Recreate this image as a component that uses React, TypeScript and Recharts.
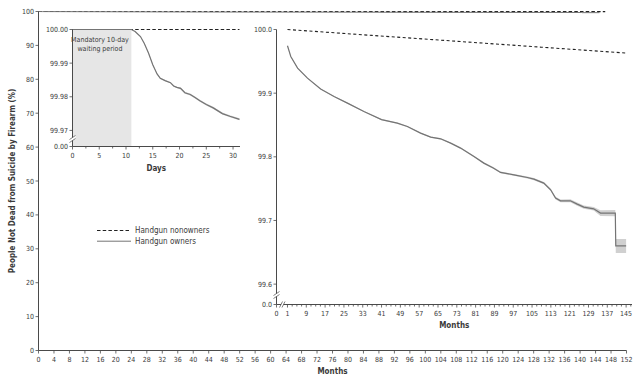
import React from 'react';
import { ComposedChart, XAxis, YAxis, Line, Area, ReferenceArea, Legend } from 'recharts';

const FONT = "'Liberation Sans Narrow', 'DejaVu Sans Condensed', 'Liberation Sans', Arial, sans-serif";
const TEXT = '#3a3a3a';
const AXIS = '#4a4a4a';
const OWNER = '#747474';
const BAND = '#d0d0d0';
const DASH = '#222222';
const SHADE = '#e6e6e6';

// ---------- main chart (0-152 months, 0-100 %) ----------
const mainXTicks = [0, 4, 8, 12, 16, 20, 24, 28, 32, 36, 40, 44, 48, 52, 56, 60, 64, 68, 72, 76, 80, 84, 88, 92, 96, 100, 104, 108, 112, 116, 120, 124, 128, 132, 136, 140, 144, 148, 152];
const mainYTicks = [0, 10, 20, 30, 40, 50, 60, 70, 80, 90, 100];
const mainNonownerMonths = [0, 146.5];
const mainNonowners = [100, 99.963];
const mainOwnerMonths = [0, 1, 41, 81, 115, 140.4, 140.6, 145];
const mainOwners = [100, 99.974, 99.858, 99.8, 99.735, 99.712, 99.66, 99.66];

// ---------- days inset ----------
const dayTicks = [0, 2.5, 5, 7.5, 10, 12.5, 15, 17.5, 20, 22.5, 25, 27.5, 30];
const dayLabelTicks = [0, 5, 10, 15, 20, 25, 30];
const DAY_BREAK = 99.96522;
const dayYTicks = [DAY_BREAK, 99.97, 99.98, 99.99, 100.0];
const waitingDays = [0, 11];
const nonownerDays = [0, 31.2];
const nonownersByDay = [100.0, 100.0];
const days = [0, 11, 11.7, 12.7, 13.4, 14.2, 15, 15.8, 16.4, 17.3, 18.3, 18.9, 19.5, 20.2, 21, 22, 22.9, 23.8, 25, 26.3, 28, 29.4, 31.2];
const ownersByDay = [100.0, 100.0, 99.9994, 99.9979, 99.9959, 99.993, 99.9895, 99.9868, 99.9855, 99.9848, 99.9842, 99.9832, 99.9828, 99.9825, 99.9812, 99.9807, 99.9798, 99.9788, 99.9777, 99.9767, 99.975, 99.9742, 99.9733];
const ownersLowByDay = [100.0, 100.0, 99.9993, 99.9978, 99.9958, 99.9928, 99.9893, 99.9866, 99.9853, 99.9846, 99.984, 99.983, 99.9826, 99.9822, 99.9809, 99.9804, 99.9795, 99.9785, 99.9774, 99.9764, 99.9747, 99.9739, 99.973];
const ownersHighByDay = [100.0, 100.0, 99.9995, 99.998, 99.996, 99.9932, 99.9897, 99.987, 99.9857, 99.985, 99.9844, 99.9834, 99.983, 99.9828, 99.9815, 99.981, 99.9801, 99.9791, 99.978, 99.977, 99.9753, 99.9745, 99.9736];

// ---------- months inset ----------
const MONTH_ORIGIN = -3.67;
const monthLabelTicks = [1, 9, 17, 25, 33, 41, 49, 57, 65, 73, 81, 89, 97, 105, 113, 121, 129, 137, 145];
const MONTH_BREAK = 99.568;
const monthYTicks = [MONTH_BREAK, 99.6, 99.7, 99.8, 99.9, 100.0];
const nonownerMonths = [1, 37, 73, 109, 145];
const nonownersByMonth = [100.0, 99.9907, 99.9815, 99.9722, 99.963];
const monthPoints = [1, 2.4, 5.3, 9.5, 15.1, 20.8, 26.5, 33.5, 41, 47.7, 52, 57.6, 61.9, 66.1, 70.4, 74.6, 80.3, 84.5, 88.5, 91.6, 97.3, 103, 105.8, 110, 112.9, 115, 117.1, 121.3, 124.2, 127, 131.2, 134.1, 140.4, 140.6, 145];
const ownersByMonth = [99.9744, 99.9576, 99.9393, 99.9236, 99.9064, 99.8947, 99.8843, 99.8712, 99.8585, 99.8529, 99.8476, 99.8372, 99.8309, 99.8283, 99.8215, 99.8137, 99.8005, 99.7901, 99.7825, 99.7755, 99.7717, 99.7675, 99.765, 99.7587, 99.7482, 99.7351, 99.7309, 99.7309, 99.7257, 99.721, 99.7183, 99.7116, 99.7116, 99.6602, 99.6602];
const ownersLowByMonth = [99.9736, 99.9568, 99.9385, 99.9228, 99.9056, 99.8939, 99.8834, 99.8703, 99.8576, 99.8519, 99.8466, 99.8362, 99.8298, 99.8272, 99.8204, 99.8125, 99.7993, 99.7888, 99.7811, 99.7741, 99.7702, 99.7659, 99.7633, 99.7569, 99.7462, 99.733, 99.7287, 99.7285, 99.7232, 99.7184, 99.7155, 99.707, 99.7068, 99.649, 99.649];
const ownersHighByMonth = [99.9752, 99.9584, 99.9401, 99.9244, 99.9072, 99.8955, 99.8852, 99.8721, 99.8594, 99.8539, 99.8486, 99.8382, 99.832, 99.8294, 99.8226, 99.8149, 99.8017, 99.7914, 99.7839, 99.7769, 99.7732, 99.7691, 99.7667, 99.7605, 99.7502, 99.7372, 99.7331, 99.7333, 99.7282, 99.7236, 99.7211, 99.7162, 99.7164, 99.671, 99.671];

const monthAxisTicks = [MONTH_ORIGIN, ...Array.from({ length: 74 }, (_, i) => 1 + 2 * i)];

// ---------- tables ----------
const mainNonTable = mainNonownerMonths.map((m, i) => ({ x: m, v: mainNonowners[i] }));
const mainOwnTable = mainOwnerMonths.map((m, i) => ({ x: m, v: mainOwners[i] }));
const dayNonTable = nonownerDays.map((d, i) => ({ x: d, v: nonownersByDay[i] }));
const dayOwnTable = days.map((d, i) => ({ x: d, v: ownersByDay[i], band: [ownersLowByDay[i], ownersHighByDay[i]] }));
const monthNonTable = nonownerMonths.map((m, i) => ({ x: m, v: nonownersByMonth[i] }));
const monthOwnTable = monthPoints.map((m, i) => ({ x: m, v: ownersByMonth[i], band: [ownersLowByMonth[i], ownersHighByMonth[i]] }));

// ---------- tick renderers ----------
const XTick = (props: any) => {
  const { x, y, payload, labelOf, xBreak } = props;
  const label = labelOf(payload.value);
  const len = label !== null ? 3 : 2;
  return (
    <g>
      <line x1={x} x2={x} y1={y} y2={y + len} stroke={AXIS} strokeWidth={0.8} />
      {label !== null && (
        <text x={x} y={y + 11.3} textAnchor="middle" fontSize={7} fill={TEXT} fontFamily={FONT}>
          {label}
        </text>
      )}
      {xBreak && (
        <g>
          <polygon points={`${x + 3},${y + 3} ${x + 6},${y - 3} ${x + 8.5},${y - 3} ${x + 5.5},${y + 3}`} fill="#fff" />
          <line x1={x + 3} y1={y + 3} x2={x + 6} y2={y - 3} stroke={AXIS} strokeWidth={0.7} />
          <line x1={x + 5.5} y1={y + 3} x2={x + 8.5} y2={y - 3} stroke={AXIS} strokeWidth={0.7} />
        </g>
      )}
    </g>
  );
};

const YTick = (props: any) => {
  const { x, y, payload, fmt, yBreak } = props;
  return (
    <g>
      <line x1={x - 3} x2={x} y1={y} y2={y} stroke={AXIS} strokeWidth={0.8} />
      <text x={x - 4.5} y={y + 2.5} textAnchor="end" fontSize={7} fill={TEXT} fontFamily={FONT}>
        {fmt(payload.value)}
      </text>
      {yBreak !== undefined && (
        <g>
          <polygon points={`${x - 3},${y - yBreak + 3} ${x + 3},${y - yBreak - 1} ${x + 3},${y - yBreak - 4} ${x - 3},${y - yBreak}`} fill="#fff" />
          <line x1={x - 3} y1={y - yBreak + 3} x2={x + 3} y2={y - yBreak - 1} stroke={AXIS} strokeWidth={0.7} />
          <line x1={x - 3} y1={y - yBreak} x2={x + 3} y2={y - yBreak - 4} stroke={AXIS} strokeWidth={0.7} />
        </g>
      )}
    </g>
  );
};

const axisTitle = (text: string, dy: number) => (props: any) => {
  const vb = props.viewBox || {};
  return (
    <text x={vb.x + vb.width / 2} y={vb.y + dy} textAnchor="middle" fontSize={8} fontWeight={700} fill={TEXT} fontFamily={FONT}>
      {text}
    </text>
  );
};

const yTitle = (props: any) => {
  const vb = props.viewBox || {};
  const cx = vb.x + 4;
  const cy = vb.y + vb.height / 2;
  return (
    <text x={cx} y={cy} transform={`rotate(-90, ${cx}, ${cy})`} textAnchor="middle" dominantBaseline="central" fontSize={8} fontWeight={700} fill={TEXT} fontFamily={FONT}>
      People Not Dead from Suicide by Firearm (%)
    </text>
  );
};

const renderLegend = (props: any) => {
  const items = props.payload || [];
  return (
    <svg width={140} height={24} style={{ display: 'block' }}>
      {items.map((e: any, i: number) => {
        const yy = 6.5 + i * 10.7;
        const dashed = !!(e.payload && e.payload.strokeDasharray);
        return (
          <g key={i}>
            <line x1={2} x2={36} y1={yy} y2={yy} stroke={dashed ? DASH : OWNER} strokeWidth={dashed ? 1.1 : 1} strokeDasharray={dashed ? '3.5 2.2' : undefined} />
            <text x={40} y={yy + 2.7} fontSize={8} fill={TEXT} fontFamily={FONT}>{e.value}</text>
          </g>
        );
      })}
    </svg>
  );
};

const waitingLabel = (props: any) => {
  const vb = props.viewBox || {};
  const cx = vb.x + vb.width / 2 - 2;
  return (
    <g>
      <text x={cx} y={vb.y + 12} textAnchor="middle" fontSize={7} fill={TEXT} fontFamily={FONT}>Mandatory 10-day</text>
      <text x={cx} y={vb.y + 21.3} textAnchor="middle" fontSize={7} fill={TEXT} fontFamily={FONT}>waiting period</text>
    </g>
  );
};

export default function App() {
  return (
    <div style={{ position: 'absolute', left: 0, top: 0, width: 639, height: 381, background: '#fff', overflow: 'hidden' }}>
      {/* main chart */}
      <div style={{ position: 'absolute', left: 0, top: 0 }}>
        <ComposedChart width={639} height={381} margin={{ top: 11.5, right: 12.5, bottom: 4.5, left: 8.5 }}>
          <XAxis
            dataKey="x"
            type="number"
            domain={[0, 152]}
            ticks={mainXTicks}
            interval={0}
            height={26}
            tickSize={0}
            tickMargin={0}
            tickLine={false}
            axisLine={{ stroke: AXIS, strokeWidth: 1 }}
            tick={(p: any) => <XTick {...p} labelOf={(v: number) => String(v)} />}
            label={axisTitle('Months', 23)}
          />
          <YAxis
            type="number"
            domain={[0, 100]}
            ticks={mainYTicks}
            interval={0}
            width={30}
            tickSize={0}
            tickMargin={0}
            tickLine={false}
            axisLine={{ stroke: AXIS, strokeWidth: 1 }}
            tick={(p: any) => <YTick {...p} fmt={(v: number) => String(v)} />}
            label={yTitle}
          />
          <Legend
            layout="vertical"
            align="center"
            verticalAlign="middle"
            content={renderLegend}
            wrapperStyle={{ left: 95, top: 224, width: 140, height: 24 }}
          />
          <Line data={mainNonTable} dataKey="v" name="Handgun nonowners" stroke={DASH} strokeWidth={1.1} strokeDasharray="3.5 2.2" dot={false} activeDot={false} isAnimationActive={false} />
          <Line data={mainOwnTable} dataKey="v" name="Handgun owners" stroke={OWNER} strokeWidth={1} dot={false} activeDot={false} isAnimationActive={false} />
        </ComposedChart>
      </div>

      {/* days inset */}
      <div style={{ position: 'absolute', left: 20, top: 20 }}>
        <ComposedChart width={230} height={160} margin={{ top: 9.5, right: 10, bottom: 3.5, left: 10.5 }}>
          <XAxis
            dataKey="x"
            type="number"
            domain={[0, 31.3]}
            ticks={dayTicks}
            interval={0}
            height={30}
            tickSize={0}
            tickMargin={0}
            tickLine={false}
            axisLine={{ stroke: AXIS, strokeWidth: 1 }}
            tick={(p: any) => <XTick {...p} labelOf={(v: number) => (dayLabelTicks.includes(v) ? String(v) : null)} />}
            label={axisTitle('Days', 24.5)}
          />
          <YAxis
            type="number"
            domain={[DAY_BREAK, 100.0]}
            ticks={dayYTicks}
            interval={0}
            width={42}
            tickSize={0}
            tickMargin={0}
            tickLine={false}
            axisLine={{ stroke: AXIS, strokeWidth: 1 }}
            tick={(p: any) => (
              <YTick
                {...p}
                fmt={(v: number) => (v === DAY_BREAK ? '0.00' : v.toFixed(2))}
                yBreak={p.payload.value === DAY_BREAK ? 7 : undefined}
              />
            )}
          />
          <ReferenceArea x1={waitingDays[0]} x2={waitingDays[1]} y1={DAY_BREAK} y2={100.0} fill={SHADE} fillOpacity={1} stroke="none" label={waitingLabel} />
          <Area data={dayOwnTable} dataKey="band" stroke="none" fill={BAND} fillOpacity={1} isAnimationActive={false} activeDot={false} />
          <Line data={dayNonTable} dataKey="v" stroke={DASH} strokeWidth={1.1} strokeDasharray="3.5 2.2" dot={false} activeDot={false} isAnimationActive={false} />
          <Line data={dayOwnTable} dataKey="v" stroke={OWNER} strokeWidth={1.2} dot={false} activeDot={false} isAnimationActive={false} />
        </ComposedChart>
      </div>

      {/* months inset */}
      <div style={{ position: 'absolute', left: 236, top: 20 }}>
        <ComposedChart width={403} height={315} margin={{ top: 9.5, right: 7, bottom: 2.5, left: 5.5 }}>
          <XAxis
            dataKey="x"
            type="number"
            domain={[MONTH_ORIGIN, 147.5]}
            ticks={monthAxisTicks}
            interval={0}
            height={28}
            tickSize={0}
            tickMargin={0}
            tickLine={false}
            axisLine={{ stroke: AXIS, strokeWidth: 1 }}
            tick={(p: any) => (
              <XTick
                {...p}
                labelOf={(v: number) => (v === MONTH_ORIGIN ? '0' : monthLabelTicks.includes(v) ? String(v) : null)}
                xBreak={p.payload.value === MONTH_ORIGIN}
              />
            )}
            label={axisTitle('Months', 23.8)}
          />
          <YAxis
            type="number"
            domain={[MONTH_BREAK, 100.0]}
            ticks={monthYTicks}
            interval={0}
            width={35}
            tickSize={0}
            tickMargin={0}
            tickLine={false}
            axisLine={{ stroke: AXIS, strokeWidth: 1 }}
            tick={(p: any) => (
              <YTick
                {...p}
                fmt={(v: number) => (v === MONTH_BREAK ? '0.0' : v.toFixed(1))}
                yBreak={p.payload.value === MONTH_BREAK ? 9 : undefined}
              />
            )}
          />
          <Area data={monthOwnTable} dataKey="band" stroke="none" fill={BAND} fillOpacity={1} isAnimationActive={false} activeDot={false} />
          <Line data={monthNonTable} dataKey="v" stroke={DASH} strokeWidth={1.1} strokeDasharray="3 2.5" dot={false} activeDot={false} isAnimationActive={false} />
          <Line data={monthOwnTable} dataKey="v" stroke={OWNER} strokeWidth={1.2} dot={false} activeDot={false} isAnimationActive={false} />
        </ComposedChart>
      </div>
    </div>
  );
}
